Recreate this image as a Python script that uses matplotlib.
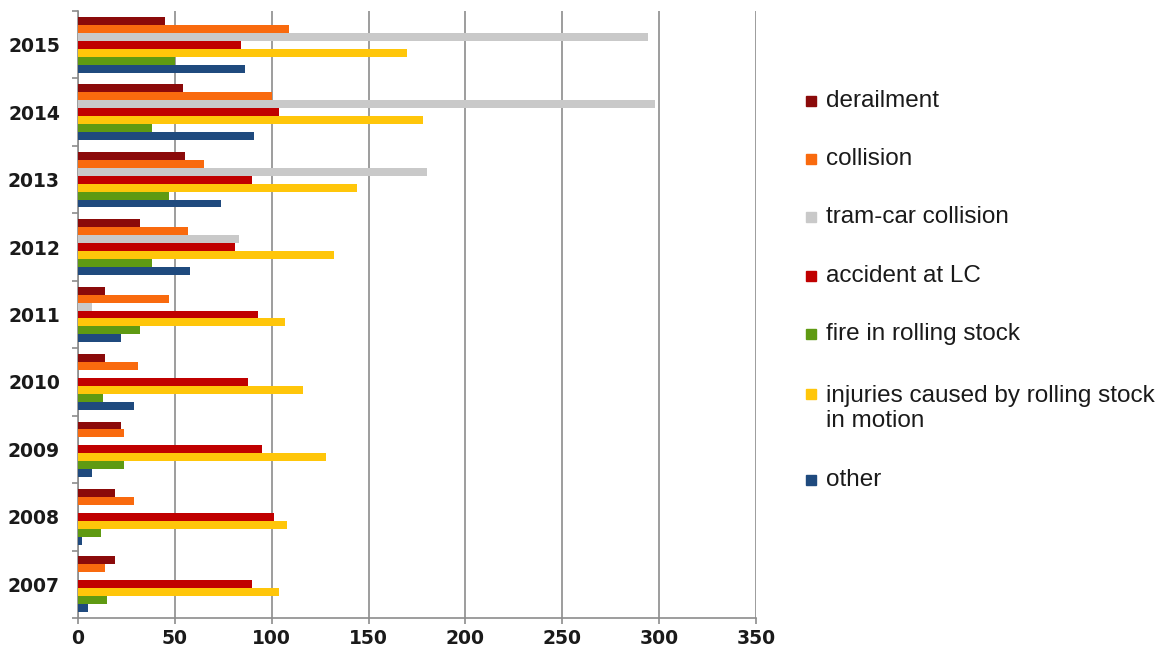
import matplotlib.pyplot as plt
from matplotlib.patches import Rectangle
import numpy as np

years = [2007, 2008, 2009, 2010, 2011, 2012, 2013, 2014, 2015]

categories = ["derailment", "collision", "tram-car collision", "accident at LC",
              "fire in rolling stock", "injuries caused by rolling stock\nin motion", "other"]
colors = ["#8B0A0A", "#F96A0E", "#C9C9C9", "#C00000", "#5F9A12", "#FFC60A", "#1F4A7E"]

# number of events per year, 2007 -> 2015
derailment = [19, 19, 22, 14, 14, 32, 55, 54, 45]
collision = [14, 29, 24, 31, 47, 57, 65, 100, 109]
tram_car = [0, 0, 0, 0, 7, 83, 180, 298, 294]
accident_lc = [90, 101, 95, 88, 93, 81, 90, 104, 84]
fire = [15, 12, 24, 13, 32, 38, 47, 38, 50]
injuries = [104, 108, 128, 116, 107, 132, 144, 178, 170]
other = [5, 2, 7, 29, 22, 58, 74, 91, 86]

series = [derailment, collision, tram_car, accident_lc, fire, injuries, other]
# within a year the injuries bar sits above the fire bar
bar_order = [0, 1, 2, 3, 5, 4, 6]

fig = plt.figure(figsize=(11.73, 6.57), dpi=100)
ax = fig.add_axes([78 / 1173, 1 - 618 / 657, (756 - 78) / 1173, (618 - 11) / 657])

y = np.arange(len(years))
h = 0.118
for pos, k in enumerate(bar_order):
    ax.barh(y + (3 - pos) * h, series[k], height=h, color=colors[k], zorder=3)

ax.set_xlim(0, 350)
ax.set_ylim(-0.5, len(years) - 0.5)
ax.set_xticks(range(0, 351, 50))
ax.grid(axis="x", color="#8c8c8c", linewidth=1.2, zorder=0)
ax.set_axisbelow(True)

# year labels in the middle, tick marks at group boundaries
ax.set_yticks(np.arange(-0.5, len(years), 1.0))
ax.set_yticklabels([])
ax.set_yticks(y, minor=True)
ax.set_yticklabels([str(v) for v in years], minor=True)
ax.tick_params(axis="y", which="minor", length=0, pad=13)
ax.tick_params(axis="y", which="major", length=4.5, color="#8c8c8c", width=1.2)
ax.tick_params(axis="x", length=4, color="#8c8c8c", width=1.2, pad=4)

for lbl in ax.get_yticklabels(minor=True):
    lbl.set_fontweight("bold")
    lbl.set_fontsize(13.5)
    lbl.set_color("#1a1a1a")
for lbl in ax.get_xticklabels():
    lbl.set_fontweight("bold")
    lbl.set_fontsize(13.5)
    lbl.set_color("#1a1a1a")

for side in ["top", "right"]:
    ax.spines[side].set_visible(False)
for side in ["left", "bottom"]:
    ax.spines[side].set_color("#8c8c8c")
    ax.spines[side].set_linewidth(1.2)

# legend drawn by hand on the right
marker_y = [101, 159, 217, 276, 334, 394, 480]
text_y = [101, 159, 217, 276, 334, 408.5, 480]
for k, name in enumerate(categories):
    ym = 1 - marker_y[k] / 657
    fig.patches.append(Rectangle((806 / 1173, ym - 5 / 657), 10 / 1173, 10 / 657,
                                 transform=fig.transFigure, color=colors[k]))
    fig.text(826 / 1173, 1 - text_y[k] / 657, name, va="center", ha="left",
             fontsize=17.5, color="#1a1a1a", family="Liberation Sans",
             linespacing=1.15)

plt.savefig("out.png", dpi=100)
